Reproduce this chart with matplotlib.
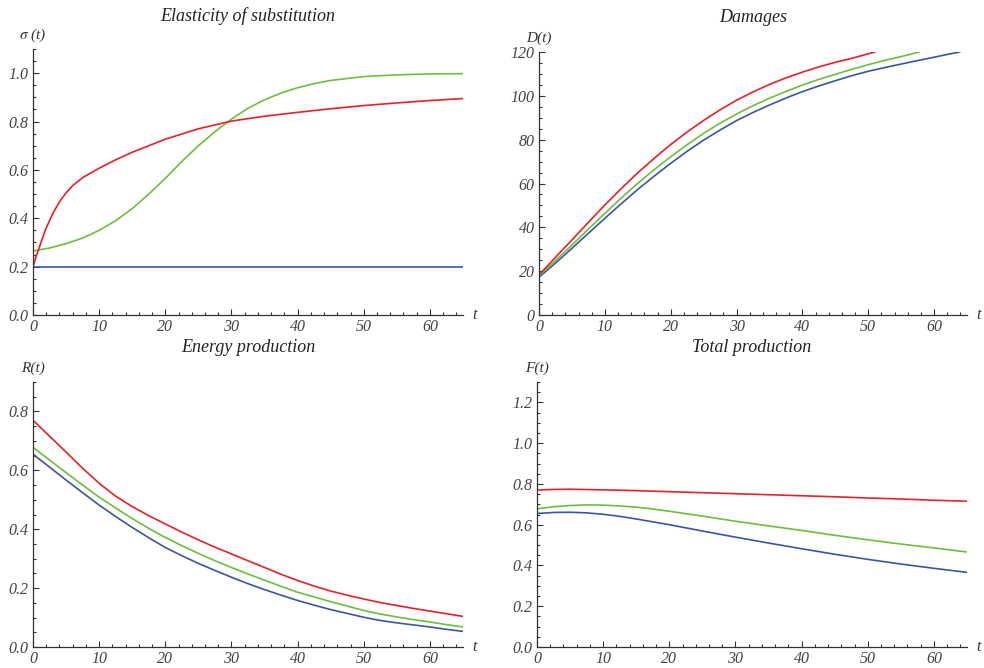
import matplotlib
matplotlib.use("Agg")
import matplotlib.pyplot as plt
from matplotlib.ticker import MultipleLocator, FormatStrFormatter

# ---------------- data ----------------
RED = "#e8202a"
GREEN = "#6cbf3c"
BLUE = "#3a55a4"

# Elasticity of substitution sigma(t)
sig_t_blue = [0, 65]
sig_blue = [0.2, 0.2]
sig_t_red = [0, 0.5, 1, 1.5, 2, 3, 4, 5, 6, 7.5, 10, 12.5, 15, 17.5, 20, 25, 30, 35, 40, 45, 50, 55, 60, 65]
sig_red = [0.2, 0.245, 0.283, 0.323, 0.36, 0.42, 0.468, 0.505, 0.535, 0.568, 0.607, 0.642, 0.673, 0.70, 0.727,
           0.77, 0.802, 0.822, 0.838, 0.853, 0.866, 0.877, 0.887, 0.895]
sig_t_green = [0, 2.5, 5, 7.5, 10, 12.5, 15, 17.5, 20, 22.5, 25, 27.5, 30, 32.5, 35, 37.5, 40, 42.5, 45, 50, 55, 60, 65]
sig_green = [0.265, 0.277, 0.295, 0.318, 0.35, 0.39, 0.44, 0.50, 0.565, 0.635, 0.70, 0.758, 0.81, 0.855, 0.89,
             0.918, 0.94, 0.957, 0.97, 0.986, 0.993, 0.997, 0.998]

# Damages D(t)
dam_t_red = [0, 2.5, 5, 7.5, 10, 12.5, 15, 17.5, 20, 22.5, 25, 27.5, 30, 32.5, 35, 37.5, 40, 42.5, 45, 47.5, 51]
dam_red = [18.3, 26.3, 34.2, 42.3, 50.2, 57.7, 64.9, 71.5, 77.8, 83.5, 88.8, 93.6, 98.0, 101.8, 105.2, 108.2,
           110.8, 113.2, 115.3, 117.1, 120]
dam_t_green = [0, 2.5, 5, 7.5, 10, 12.5, 15, 17.5, 20, 22.5, 25, 27.5, 30, 32.5, 35, 37.5, 40, 42.5, 45, 47.5,
               50, 52.5, 55, 57.7]
dam_green = [17.8, 24.8, 31.9, 39.2, 46.4, 53.4, 60.1, 66.3, 72.2, 77.7, 82.9, 87.5, 91.7, 95.5, 98.9, 102.0,
             104.9, 107.5, 109.8, 112.1, 114.2, 116.2, 117.9, 120]
dam_t_blue = [0, 2.5, 5, 7.5, 10, 12.5, 15, 17.5, 20, 22.5, 25, 27.5, 30, 32.5, 35, 37.5, 40, 42.5, 45, 47.5,
              50, 52.5, 55, 57.5, 60, 62, 63.9]
dam_blue = [17.2, 23.7, 30.4, 37.3, 44.1, 50.8, 57.3, 63.4, 69.2, 74.7, 79.8, 84.4, 88.7, 92.4, 95.8, 99.0,
            101.9, 104.5, 106.9, 109.2, 111.2, 112.9, 114.5, 116.1, 117.6, 118.9, 120]

# Energy production R(t)
en_t = [0, 2.5, 5, 7.5, 10, 12.5, 15, 17.5, 20, 22.5, 25, 27.5, 30, 32.5, 35, 37.5, 40, 42.5, 45, 47.5,
        50, 52.5, 55, 57.5, 60, 62.5, 65]
en_red = [0.77, 0.716, 0.662, 0.607, 0.556, 0.512, 0.477, 0.446, 0.418, 0.39, 0.364, 0.339, 0.316, 0.293, 0.27,
          0.247, 0.226, 0.207, 0.19, 0.176, 0.163, 0.151, 0.141, 0.131, 0.122, 0.113, 0.104]
en_green = [0.678, 0.635, 0.592, 0.55, 0.509, 0.472, 0.436, 0.403, 0.372, 0.344, 0.318, 0.293, 0.27, 0.248,
            0.227, 0.206, 0.186, 0.17, 0.154, 0.139, 0.124, 0.112, 0.102, 0.093, 0.085, 0.076, 0.068]
en_blue = [0.655, 0.611, 0.567, 0.524, 0.482, 0.443, 0.406, 0.371, 0.338, 0.31, 0.284, 0.26, 0.237, 0.215,
           0.195, 0.176, 0.158, 0.142, 0.127, 0.114, 0.101, 0.09, 0.082, 0.075, 0.068, 0.06, 0.053]

# Total production F(t)
tp_t_red = [0, 2.5, 5, 10, 15, 20, 25, 30, 35, 40, 45, 50, 55, 60, 65]
tp_red = [0.77, 0.773, 0.774, 0.771, 0.767, 0.762, 0.757, 0.752, 0.747, 0.742, 0.737, 0.731, 0.726, 0.72, 0.715]
tp_t = [0, 2.5, 5, 7.5, 10, 12.5, 15, 17.5, 20, 25, 30, 35, 40, 45, 50, 55, 60, 65]
tp_green = [0.678, 0.688, 0.694, 0.697, 0.696, 0.692, 0.686, 0.677, 0.666, 0.642, 0.617, 0.594, 0.572, 0.548,
            0.526, 0.505, 0.486, 0.466]
tp_blue = [0.655, 0.66, 0.661, 0.658, 0.651, 0.641, 0.628, 0.614, 0.60, 0.569, 0.539, 0.51, 0.482, 0.455,
           0.43, 0.407, 0.386, 0.366]

titles = ["Elasticity of substitution", "Damages", "Energy production", "Total production"]
ylabels = [r"$\sigma$ (t)", "D(t)", "R(t)", "F(t)"]

# ---------------- figure ----------------
W, H = 984, 668
fig = plt.figure(figsize=(W / 100, H / 100), dpi=100)
FONT = "Liberation Serif"

def px_axes(x0, x1, y0, y1):
    return fig.add_axes([x0 / W, 1 - y0 / H, (x1 - x0) / W, (y0 - y1) / H])

axes = [
    px_axes(33, 463, 315, 49),
    px_axes(539, 967, 315, 52),
    px_axes(33, 463, 647, 382),
    px_axes(537, 967, 647, 382),
]
ylims = [(0, 1.1), (0, 120), (0, 0.9), (0, 1.3)]
ymaj = [0.2, 20, 0.2, 0.2]
ymin = [0.05, 5, 0.05, 0.05]
yfmt = ["%.1f", "%d", "%.1f", "%.1f"]

lw = 1.2
a = axes[0]
a.plot(sig_t_blue, sig_blue, color=BLUE, lw=lw)
a.plot(sig_t_green, sig_green, color=GREEN, lw=lw)
a.plot(sig_t_red, sig_red, color=RED, lw=lw)

a = axes[1]
a.plot(dam_t_blue, dam_blue, color=BLUE, lw=lw)
a.plot(dam_t_green, dam_green, color=GREEN, lw=lw)
a.plot(dam_t_red, dam_red, color=RED, lw=lw)

a = axes[2]
a.plot(en_t, en_blue, color=BLUE, lw=lw)
a.plot(en_t, en_green, color=GREEN, lw=lw)
a.plot(en_t, en_red, color=RED, lw=lw)

a = axes[3]
a.plot(tp_t, tp_blue, color=BLUE, lw=lw)
a.plot(tp_t, tp_green, color=GREEN, lw=lw)
a.plot(tp_t_red, tp_red, color=RED, lw=lw)

title_y = [16, 17, 348, 347]
for i, ax in enumerate(axes):
    ax.set_xlim(0, 65)
    ax.set_ylim(*ylims[i])
    ax.set_facecolor("none")
    for s in ["top", "right"]:
        ax.spines[s].set_visible(False)
    for s in ["left", "bottom"]:
        ax.spines[s].set_color("#333333")
        ax.spines[s].set_linewidth(0.9)
    ax.xaxis.set_major_locator(MultipleLocator(10))
    ax.xaxis.set_minor_locator(MultipleLocator(2))
    ax.yaxis.set_major_locator(MultipleLocator(ymaj[i]))
    ax.yaxis.set_minor_locator(MultipleLocator(ymin[i]))
    ax.yaxis.set_major_formatter(FormatStrFormatter(yfmt[i]))
    ax.tick_params(which="both", direction="in", color="#333333", width=0.8,
                   labelcolor="#444444", labelsize=11.5, pad=3)
    ax.tick_params(which="major", length=4)
    ax.tick_params(which="minor", length=2.3)
    for lab in ax.get_xticklabels() + ax.get_yticklabels():
        lab.set_fontfamily(FONT)
        lab.set_fontstyle("italic")
    pos = ax.get_position()
    cx = (pos.x0 + pos.x1) / 2
    fig.text(cx, 1 - title_y[i] / H, titles[i], ha="center", va="center",
             fontsize=13, family=FONT, style="italic", color="#222222")
    fig.text(pos.x0, pos.y1 + 14 / H, ylabels[i], ha="center", va="center",
             fontsize=11, family=FONT, style="italic", color="#333333",
             math_fontfamily="stix")
    fig.text(pos.x1 + 12 / W, pos.y0, "t", ha="center", va="center",
             fontsize=11.5, family=FONT, style="italic", color="#333333")

fig.savefig("out.png", dpi=100)
